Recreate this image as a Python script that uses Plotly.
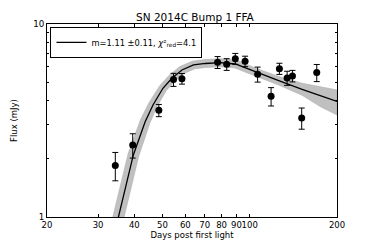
import plotly.graph_objects as go

# Observed data (days, flux mJy, 1-sigma error)
days = [34.4, 39.5, 48.6, 54.6, 58.4, 65.4, 77.5, 83.3, 89.2, 96.4, 106.5,
        118.5, 126.6, 134.6, 140.4, 151.1, 170.3]
flux = [1.85, 2.36, 3.57, 5.15, 5.21, 7.27, 6.33, 6.18, 6.61, 6.41, 5.49,
        4.22, 5.87, 5.25, 5.38, 3.26, 5.60]
flux_err = [0.31, 0.34, 0.26, 0.40, 0.33, 0.43, 0.45, 0.43, 0.43, 0.40, 0.49,
            0.46, 0.39, 0.44, 0.37, 0.41, 0.57]

# Best-fit FFA model curve
model_days = [34.4, 35.3, 37.2, 39.7, 43.6, 46.4, 50.2, 53.9, 58.4, 64.0, 70.3,
              79.2, 89.2, 106.0, 125.9, 151.6, 175.4, 200.0]
model_flux = [0.856, 1.0, 1.408, 2.096, 3.117, 3.805, 4.644, 5.232, 5.777, 6.133,
              6.244, 6.304, 6.206, 5.595, 5.084, 4.588, 4.251, 3.967]

# Uncertainty band edges
band_hi_days = [32.97, 33.8, 35.64, 38.1, 42.0, 44.9, 48.9, 52.7, 57.4, 63.5, 70.1,
                79.2, 89.8, 106.0, 125.9, 151.6, 175.4, 200.0]
band_hi_flux = [0.869, 1.015, 1.430, 2.135, 3.187, 3.901, 4.779, 5.416, 6.016, 6.420,
                6.548, 6.610, 6.501, 5.868, 5.352, 4.930, 4.733, 4.550]
band_lo_days = [35.9, 36.8, 38.8, 41.4, 45.2, 47.8, 51.5, 55.1, 59.4, 64.6, 70.5,
                79.2, 88.7, 106.0, 125.9, 151.6, 175.4, 200.0]
band_lo_flux = [0.844, 0.985, 1.387, 2.057, 3.049, 3.710, 4.513, 5.052, 5.546, 5.857,
                5.953, 6.010, 5.925, 5.333, 4.830, 4.272, 3.728, 3.378]

x_ticks = [20, 30, 40, 50, 60, 70, 80, 90, 100, 200]
x_ticktext = ["20", "30", "40", "50", "60", "70", "80", "90", "100", "200"]
y_ticks = [1, 10]
y_minor = [2, 3, 4, 5, 6, 7, 8, 9]

FONT = "DejaVu Sans"

fig = go.Figure()

fig.add_trace(go.Scatter(
    x=band_hi_days + band_lo_days[::-1],
    y=band_hi_flux + band_lo_flux[::-1],
    fill="toself", fillcolor="rgb(192,192,192)",
    line=dict(width=0.6, color="rgb(175,175,175)"),
    mode="lines", showlegend=False, hoverinfo="skip"))

fig.add_trace(go.Scatter(
    x=model_days, y=model_flux, mode="lines",
    line=dict(color="black", width=1.3),
    name="m=1.11 ±0.11, <i>χ</i>²<sub>red</sub>=4.1"))

fig.add_trace(go.Scatter(
    x=days, y=flux, mode="markers",
    marker=dict(color="black", size=7),
    error_y=dict(type="data", array=flux_err, color="black", thickness=1, width=3),
    showlegend=False, cliponaxis=False))

fig.update_layout(
    width=374, height=249,
    margin=dict(l=47, r=37, t=24, b=32, autoexpand=False),
    paper_bgcolor="white", plot_bgcolor="white",
    font=dict(family=FONT, color="black", size=9),
    title=dict(text="SN 2014C Bump 1 FFA", x=0.51, xanchor="center",
               xref="paper", y=0.93, yanchor="middle",
               font=dict(size=10.5, family=FONT, color="black")),
    showlegend=True,
    legend=dict(x=0.012, y=0.985, xanchor="left", yanchor="top",
                bgcolor="white", bordercolor="black", borderwidth=1,
                font=dict(size=8.3, family=FONT, color="black"),
                tracegroupgap=0, itemwidth=30),
)

fig.update_xaxes(
    type="log", range=[1.30103, 2.30103], automargin=False,
    tickvals=x_ticks, ticktext=x_ticktext, tickangle=0,
    ticks="inside", ticklen=3, tickcolor="black",
    showline=True, linecolor="black", linewidth=1, mirror="ticks",
    showgrid=False, zeroline=False,
    tickfont=dict(size=8.5, family=FONT, color="black"),
    title=dict(text="Days post first light", standoff=1,
               font=dict(size=8.5, family=FONT, color="black")),
)
fig.update_yaxes(
    type="log", range=[0, 1], automargin=False,
    tickvals=y_ticks, ticktext=["1", "10"],
    ticks="inside", ticklen=4, tickcolor="black",
    minor=dict(tickvals=y_minor, ticks="inside", ticklen=2, tickcolor="black"),
    showline=True, linecolor="black", linewidth=1, mirror="ticks",
    showgrid=False, zeroline=False,
    tickfont=dict(size=8.7, family=FONT, color="black"),
    title=dict(text="Flux (mJy)", standoff=14,
               font=dict(size=8.5, family=FONT, color="black")),
)

fig.write_html("out.html", config={"displayModeBar": False},
               post_script="document.body.style.margin='0';document.body.style.overflow='hidden';")
